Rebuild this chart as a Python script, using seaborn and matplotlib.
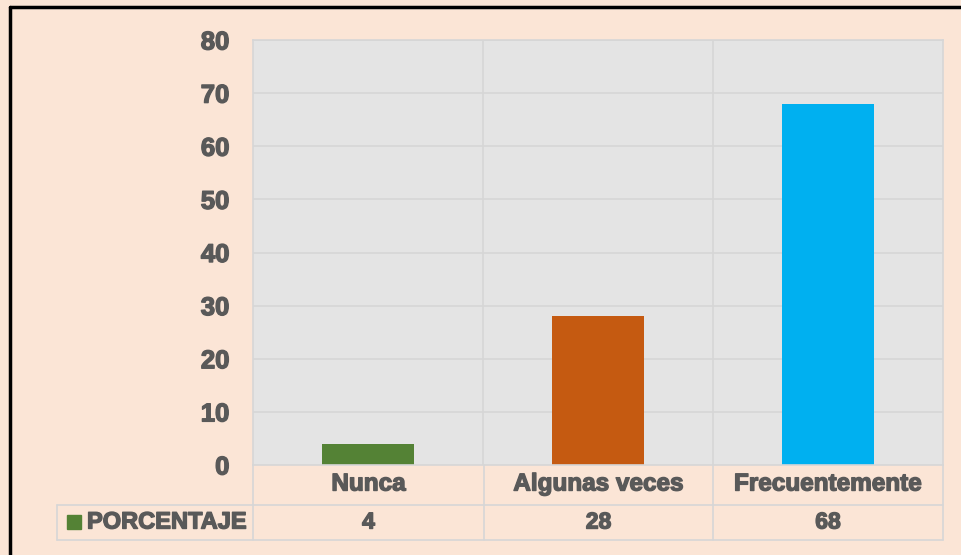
import matplotlib
matplotlib.use("Agg")
import matplotlib.pyplot as plt
import matplotlib.patheffects as pe
import seaborn as sns
import pandas as pd
from matplotlib.lines import Line2D
from matplotlib.patches import Rectangle

categorias = ["Nunca", "Algunas veces", "Frecuentemente"]
porcentaje = [4, 28, 68]
colores = ["#548235", "#C55A11", "#00B0F0"]
serie = "PORCENTAJE"

W, H = 962, 555
texto = "#595959"
rejilla = "#D6D6D6"
grueso = [pe.withStroke(linewidth=1.0, foreground=texto)]

sns.set_style("white")
plt.rcParams["font.family"] = ["Liberation Sans", "DejaVu Sans"]
plt.rcParams["font.weight"] = "bold"

fig = plt.figure(figsize=(W / 100, H / 100), dpi=100)
fig.patch.set_facecolor("#FBE5D6")


def fx(px):
    return px / W


def fy(py):
    return 1 - py / H


ax = fig.add_axes([fx(253), fy(465), fx(943) - fx(253), fy(40) - fy(465)])
ax.set_facecolor("#E4E4E4")

df = pd.DataFrame({"cat": categorias, "val": porcentaje})
sns.barplot(data=df, x="cat", y="val", hue="cat", palette=colores,
            width=0.4, legend=False, ax=ax, saturation=1, linewidth=0)

ax.set_ylim(0, 80)
ax.set_yticks(range(0, 81, 10))
ax.set_xlim(-0.5, 2.5)
ax.set_xticks([])
ax.set_xlabel("")
ax.set_ylabel("")
ax.tick_params(axis="y", length=0, pad=17, labelsize=18.5, labelcolor=texto)
for t in ax.get_yticklabels():
    t.set_fontweight("bold")
    t.set_path_effects(grueso)
for y in range(10, 81, 10):
    ax.axhline(y, color=rejilla, lw=1.2, zorder=0)
for x in [0.5, 1.5]:
    ax.axvline(x, color=rejilla, lw=1.2, zorder=0)
for s in ax.spines.values():
    s.set_color(rejilla)
    s.set_linewidth(1.2)
ax.set_axisbelow(True)

# tabla de datos bajo el eje
cols = [253, 484, 713, 943]
y_cat, y_row, y_end = 465, 505, 540
lineas = [
    ([57, 943], [y_row, y_row]),
    ([57, 943], [y_end, y_end]),
    ([57, 57], [y_row, y_end]),
]
for c in cols:
    lineas.append(([c, c], [y_cat, y_end]))
for xs, ys in lineas:
    fig.add_artist(Line2D([fx(v) for v in xs], [fy(v) for v in ys],
                          color=rejilla, lw=1.2, transform=fig.transFigure))

for i, (cat, val) in enumerate(zip(categorias, porcentaje)):
    xc = fx((cols[i] + cols[i + 1]) / 2)
    fig.text(xc, fy(484), cat, ha="center", va="center", fontsize=17.5,
             fontweight="bold", color=texto, path_effects=grueso)
    fig.text(xc, fy(522), str(val), ha="center", va="center", fontsize=16.5,
             fontweight="bold", color=texto, path_effects=grueso)

fig.add_artist(Rectangle((fx(67), fy(529)), fx(14), fy(515) - fy(529),
                         color=colores[0], transform=fig.transFigure))
fig.text(fx(87), fy(522), serie, ha="left", va="center", fontsize=17,
         fontweight="bold", color=texto, path_effects=grueso)

# marco negro
fig.add_artist(Line2D([fx(10), fx(10)], [fy(7), fy(555)], color="black",
                      lw=2.5, transform=fig.transFigure))
fig.add_artist(Line2D([fx(10), fx(962)], [fy(7), fy(7)], color="black",
                      lw=2.5, transform=fig.transFigure))

fig.savefig("out.png", dpi=100, facecolor=fig.get_facecolor())
